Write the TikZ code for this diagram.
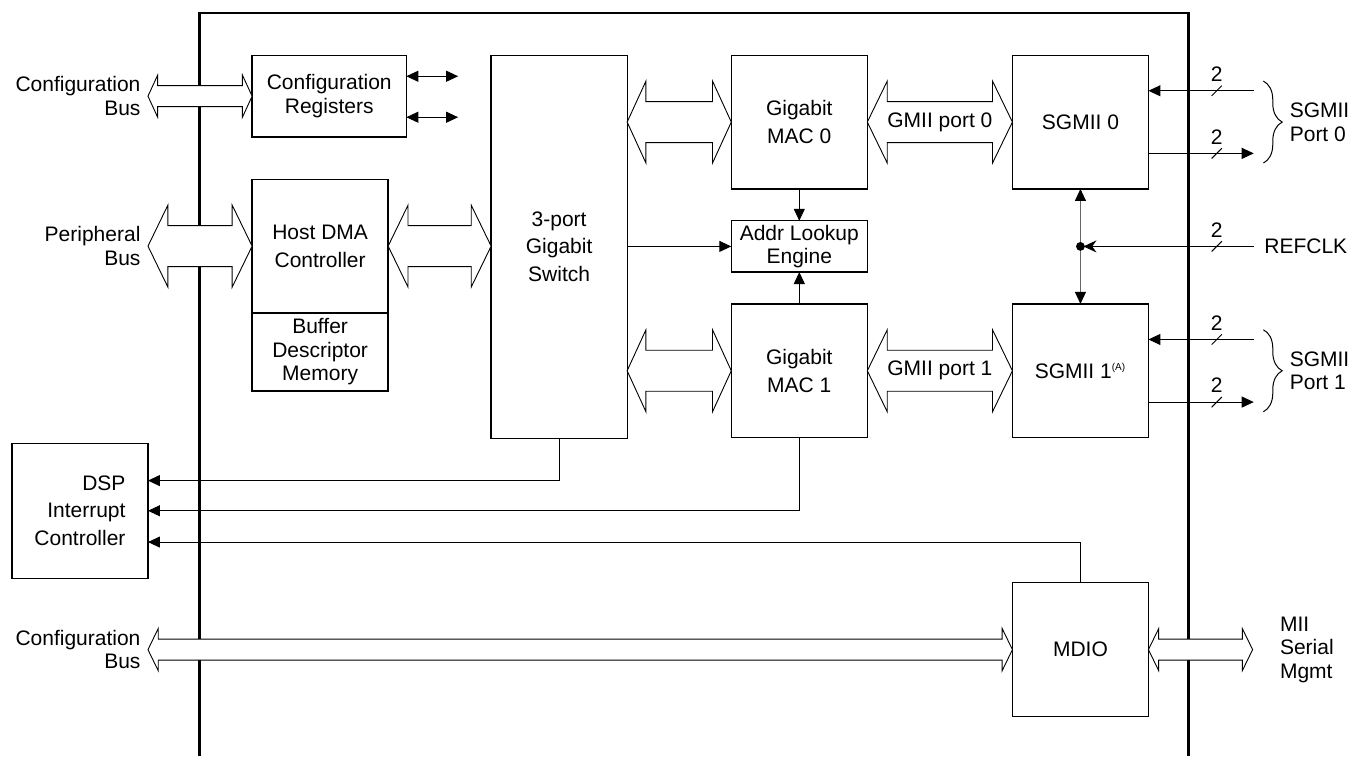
\documentclass[tikz,border=0pt]{standalone}
\usepackage{fontspec}
\setmainfont{Liberation Sans}
\usetikzlibrary{arrows.meta,positioning,calc,decorations.pathreplacing}

\newcommand{\boxfont}{\fontsize{10.5}{13.75}\selectfont}
\newcommand{\lblfont}{\fontsize{10.5}{11.75}\selectfont}
% lane count mark: slash + "2" above the line
\newcommand{\lanes}[2]{%
  \coordinate (#2) at #1;
  \draw[line width=0.5pt] ($(#2)+(-0.09,-0.09)$) -- ($(#2)+(0.09,0.09)$);
  \node[lbl, above=0.12cm of #2] (#2n) {2};}

\begin{document}
\begin{tikzpicture}[
blk/.style={draw, align=center, minimum width=2.39cm, minimum height=2.35cm, inner sep=1pt, outer sep=0pt, line width=0.65pt, font=\boxfont},
lbl/.style={inner sep=1pt, font=\lblfont},
sig/.style={->, line width=0.5pt},
chip/.style={line width=1.4pt},
bus/.style 2 args={draw, fill=white, line width=0.45pt, to path={
  let \p1=(\tikztostart), \p2=(\tikztotarget) in
  -- (\x1+#1,\y1+#2) -- (\x1+#1,\y1+#2/2) -- (\x2-#1,\y1+#2/2) -- (\x2-#1,\y1+#2)
  -- (\x2,\y1) -- (\x2-#1,\y1-#2) -- (\x2-#1,\y1-#2/2) -- (\x1+#1,\y1-#2/2)
  -- (\x1+#1,\y1-#2) -- cycle}},
brc/.style={decorate, decoration={brace, amplitude=0.33cm}, line width=0.5pt},
>={Triangle[length=6pt,width=5.5pt,color=black]}
]
\useasboundingbox (0,0) rectangle (23.88,-13.29);
\draw[chip] (3.51,-13.29) -- (3.51,-0.23) -- (20.89,-0.23) -- (20.89,-13.29);

\node[blk, minimum width=2.71cm, minimum height=1.44cm, font=\lblfont, anchor=north west] (cfgreg) at (4.43,-0.97) {Configuration\\Registers};
\node[blk, below=0.74cm of cfgreg.south west, anchor=north west] (dma) {Host DMA\\Controller};
\node[blk, minimum height=1.37cm, font=\lblfont, below=0cm of dma] (bufmem) {Buffer\\Descriptor\\Memory};
\node[blk, minimum height=6.73cm, right=1.49cm of cfgreg.north east, anchor=north west] (sw) {3-port\\Gigabit\\Switch};
\node[blk, right=1.83cm of sw.north east, anchor=north west] (mac0) {Gigabit\\MAC 0};
\node[blk, minimum height=0.9cm, font=\lblfont, below=0.56cm of mac0] (alu) {Addr Lookup\\Engine};
\node[blk, below=0.56cm of alu] (mac1) {Gigabit\\MAC 1};
\node[blk, right=2.55cm of mac0] (sgmii0) {SGMII 0};
\node[blk, right=2.55cm of mac1] (sgmii1) {SGMII 1\textsuperscript{\fontsize{5}{5}\selectfont(A)}};
\node[blk, below=2.55cm of sgmii1] (mdio) {MDIO};
\node[blk, align=right, minimum height=2.37cm, anchor=north west] (dsp) at (0.21,-7.79) {DSP\\Interrupt\\Controller};

\coordinate (cfgtip) at (cfgreg.west -| dsp.east);
\coordinate (pertip) at (dma.west -| dsp.east);
\coordinate (cfgtip2) at (mdio.west -| dsp.east);
\coordinate (miitip) at ($(mdio.east)+(1.83,0)$);

% wide buses
\draw[bus={0.17cm}{0.37cm}] (cfgtip) to (cfgreg.west);
\draw[bus={0.35cm}{0.72cm}] (pertip) to (dma.west);
\draw[bus={0.35cm}{0.72cm}] (dma.east) to (dma.east -| sw.west);
\draw[bus={0.33cm}{0.72cm}] (mac0.west -| sw.east) to (mac0.west);
\draw[bus={0.33cm}{0.72cm}] (mac1.west -| sw.east) to (mac1.west);
\draw[bus={0.35cm}{0.72cm}] (mac0.east) to (sgmii0.west);
\draw[bus={0.35cm}{0.72cm}] (mac1.east) to (sgmii1.west);
\draw[bus={0.18cm}{0.37cm}] (cfgtip2) to (mdio.west);
\draw[bus={0.18cm}{0.37cm}] (mdio.east) to (miitip);
\path (mac0.east) -- node[lbl] (gmii0) {GMII port 0} (sgmii0.west);
\path (mac1.east) -- node[lbl] (gmii1) {GMII port 1} (sgmii1.west);

\node[lbl, align=right, left=0.09cm of cfgtip] (cfgbus) {Configuration\\Bus};
\node[lbl, align=right, left=0.09cm of pertip] (perbus) {Peripheral\\Bus};
\node[lbl, align=right, left=0.09cm of cfgtip2] (cfgbus2) {Configuration\\Bus};
\node[lbl, align=left, right=0.44cm of miitip] (miilbl) {MII\\Serial\\Mgmt};

\coordinate (cr1) at ($(cfgreg.east)+(0.91,0.35)$);
\coordinate (cr2) at ($(cfgreg.east)+(0.91,-0.37)$);
\draw[sig, <->] (cfgreg.east |- cr1) -- (cr1);
\draw[sig, <->] (cfgreg.east |- cr2) -- (cr2);

\draw[sig] (alu.west -| sw.east) -- (alu.west);
\draw[sig] (mac0) -- (alu);
\draw[sig] (mac1) -- (alu);

% interrupts
\draw[sig] (sw.south) |- ($(dsp.east)+(0,0.53)$);
\draw[sig] (mac1.south) |- (dsp.east);
\draw[sig] (mdio.north) |- ($(dsp.east)+(0,-0.55)$);

% serdes side
\coordinate (in0) at ($(sgmii0.east)+(1.85,0.55)$);
\coordinate (out0) at ($(sgmii0.east)+(1.85,-0.55)$);
\coordinate (in1) at ($(sgmii1.east)+(1.85,0.55)$);
\coordinate (out1) at ($(sgmii1.east)+(1.85,-0.55)$);
\draw[sig] (in0) -- (in0 -| sgmii0.east);
\draw[sig] (out0 -| sgmii0.east) -- (out0);
\draw[sig] (in1) -- (in1 -| sgmii1.east);
\draw[sig] (out1 -| sgmii1.east) -- (out1);
\lanes{($(in0)+(-0.65,0)$)}{w0}
\lanes{($(out0)+(-0.65,0)$)}{w1}
\lanes{($(in1)+(-0.65,0)$)}{w2}
\lanes{($(out1)+(-0.65,0)$)}{w3}

\coordinate (tap) at (sgmii0.south |- alu.east);
\node[lbl, inner xsep=0.18cm, anchor=west] (refclk) at (tap -| in0) {REFCLK};
\draw[sig, -{Stealth[length=6.5pt,width=6pt]}, shorten >=1.5pt] (refclk.west) -- (tap);
\lanes{($(refclk.west)+(-0.65,0)$)}{w4}
\draw[sig, <->, black!60] (sgmii0) -- (sgmii1);
\fill (tap) circle (2.2pt);

\draw[brc] ($(sgmii0.east)+(2.02,0.72)$) -- node[lbl, align=left, right=0.42cm] (port0) {SGMII\\Port 0} ($(sgmii0.east)+(2.02,-0.72)$);
\draw[brc] ($(sgmii1.east)+(2.02,0.72)$) -- node[lbl, align=left, right=0.42cm] (port1) {SGMII\\Port 1} ($(sgmii1.east)+(2.02,-0.72)$);
\end{tikzpicture}
\end{document}
